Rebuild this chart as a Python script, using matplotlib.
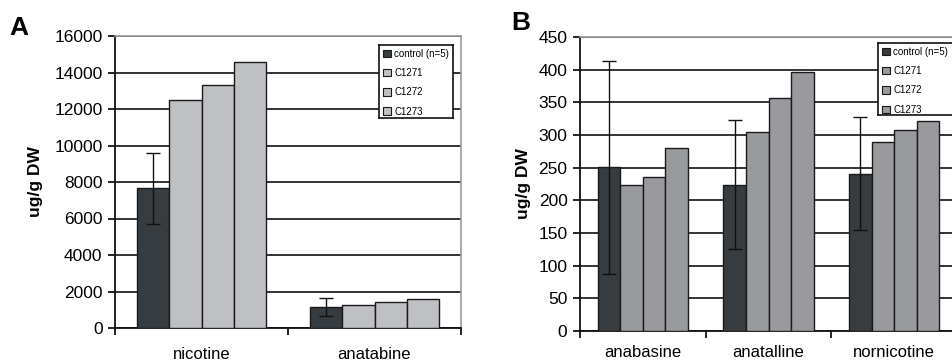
import matplotlib
matplotlib.use("Agg")
import matplotlib.pyplot as plt
import numpy as np
from matplotlib.patches import Patch

plt.rcParams['font.family'] = ['Liberation Sans', 'DejaVu Sans']

series = ["control (n=5)", "C1271", "C1272", "C1273"]

cats_a = ["nicotine", "anatabine"]
vals_a = {
    "control (n=5)": [7650, 1150],
    "C1271": [12500, 1250],
    "C1272": [13300, 1420],
    "C1273": [14600, 1600],
}
err_a = [1950, 480]

cats_b = ["anabasine", "anatalline", "nornicotine"]
vals_b = {
    "control (n=5)": [251, 224, 241],
    "C1271": [224, 305, 290],
    "C1272": [236, 357, 307],
    "C1273": [280, 396, 322],
}
err_b = [163, 99, 86]

dark = "#373c40"
light_a = "#bfc0c4"
mid_b = "#999a9e"

W, H = 952, 363
fig = plt.figure(figsize=(W / 100, H / 100), dpi=100)


def make_panel(rect, cats, vals, errs, other_color, ymax, ystep, group_w, legend_rect,
               letter, letter_xy, xpad, ylabpad):
    ax = fig.add_axes(rect)
    n = len(series)
    bw = group_w / n
    x = np.arange(len(cats))
    for i, s in enumerate(series):
        col = dark if i == 0 else other_color
        pos = x - group_w / 2 + bw * (i + 0.5)
        ax.bar(pos, vals[s], width=bw, color=col, edgecolor="#1a1a1a", linewidth=1.0, zorder=3)
        if i == 0:
            ax.errorbar(pos, vals[s], yerr=errs, fmt="none", ecolor="#111111",
                        elinewidth=1.0, capsize=5, capthick=1.0, zorder=4)
    ax.set_xlim(-0.5, len(cats) - 0.5)
    ax.set_ylim(0, ymax)
    ax.set_yticks(np.arange(0, ymax + 1, ystep))
    ax.yaxis.grid(True, color="#111111", linewidth=1.2, zorder=0)
    ax.set_axisbelow(True)
    ax.set_xticks(np.arange(-0.5, len(cats) + 0.5, 1.0))
    ax.set_xticklabels([])
    ax.set_xticks(x, minor=True)
    ax.set_xticklabels(cats, minor=True, fontsize=12)
    ax.tick_params(axis="x", which="minor", length=0, pad=xpad)
    ax.tick_params(axis="x", which="major", direction="out", length=5, width=1.2)
    ax.tick_params(axis="y", direction="out", length=5, width=1.2, labelsize=12.5, pad=4)
    for sp in ["left", "bottom"]:
        ax.spines[sp].set_color("#111111")
        ax.spines[sp].set_linewidth(1.3)
    for sp in ["top", "right"]:
        ax.spines[sp].set_color("#9a9a9a")
        ax.spines[sp].set_linewidth(1.2)
    ax.set_ylabel("ug/g DW", fontsize=12.5, fontweight="bold", labelpad=ylabpad)

    handles = [Patch(facecolor=(dark if i == 0 else other_color), edgecolor="#1a1a1a", linewidth=0.8)
               for i in range(n)]
    lax = fig.add_axes(legend_rect)
    lax.set_xticks([]); lax.set_yticks([])
    for sp in lax.spines.values():
        sp.set_color("#111111"); sp.set_linewidth(1.2)
    lax.set_facecolor("white")
    lax.set_zorder(5)
    lax.legend(handles, series, loc="upper left", frameon=False, fontsize=7,
               handlelength=0.8, handleheight=0.8, handletextpad=0.35,
               labelspacing=0.95, borderaxespad=0.1, borderpad=0.3,
               bbox_to_anchor=(0.0, 1.0))
    fig.text(letter_xy[0] / W, 1 - letter_xy[1] / H, letter, fontsize=19, fontweight="bold",
             ha="center", va="center")
    return ax


# Panel A
make_panel([115 / W, 1 - 328 / H, (461 - 115) / W, (328 - 36) / H],
           cats_a, vals_a, err_a, light_a, 16000, 2000, 0.75,
           [379 / W, 1 - 118 / H, (453 - 379) / W, (118 - 45) / H], "A", (19, 28), 14, 8)

# Panel B
make_panel([580 / W, 1 - 331 / H, (957 - 580) / W, (331 - 37) / H],
           cats_b, vals_b, err_b, mid_b, 450, 50, 0.72,
           [878 / W, 1 - 115 / H, (960 - 878) / W, (115 - 43) / H], "B", (521, 23), 10, 5)

fig.savefig("out.png", dpi=100, facecolor="white")
